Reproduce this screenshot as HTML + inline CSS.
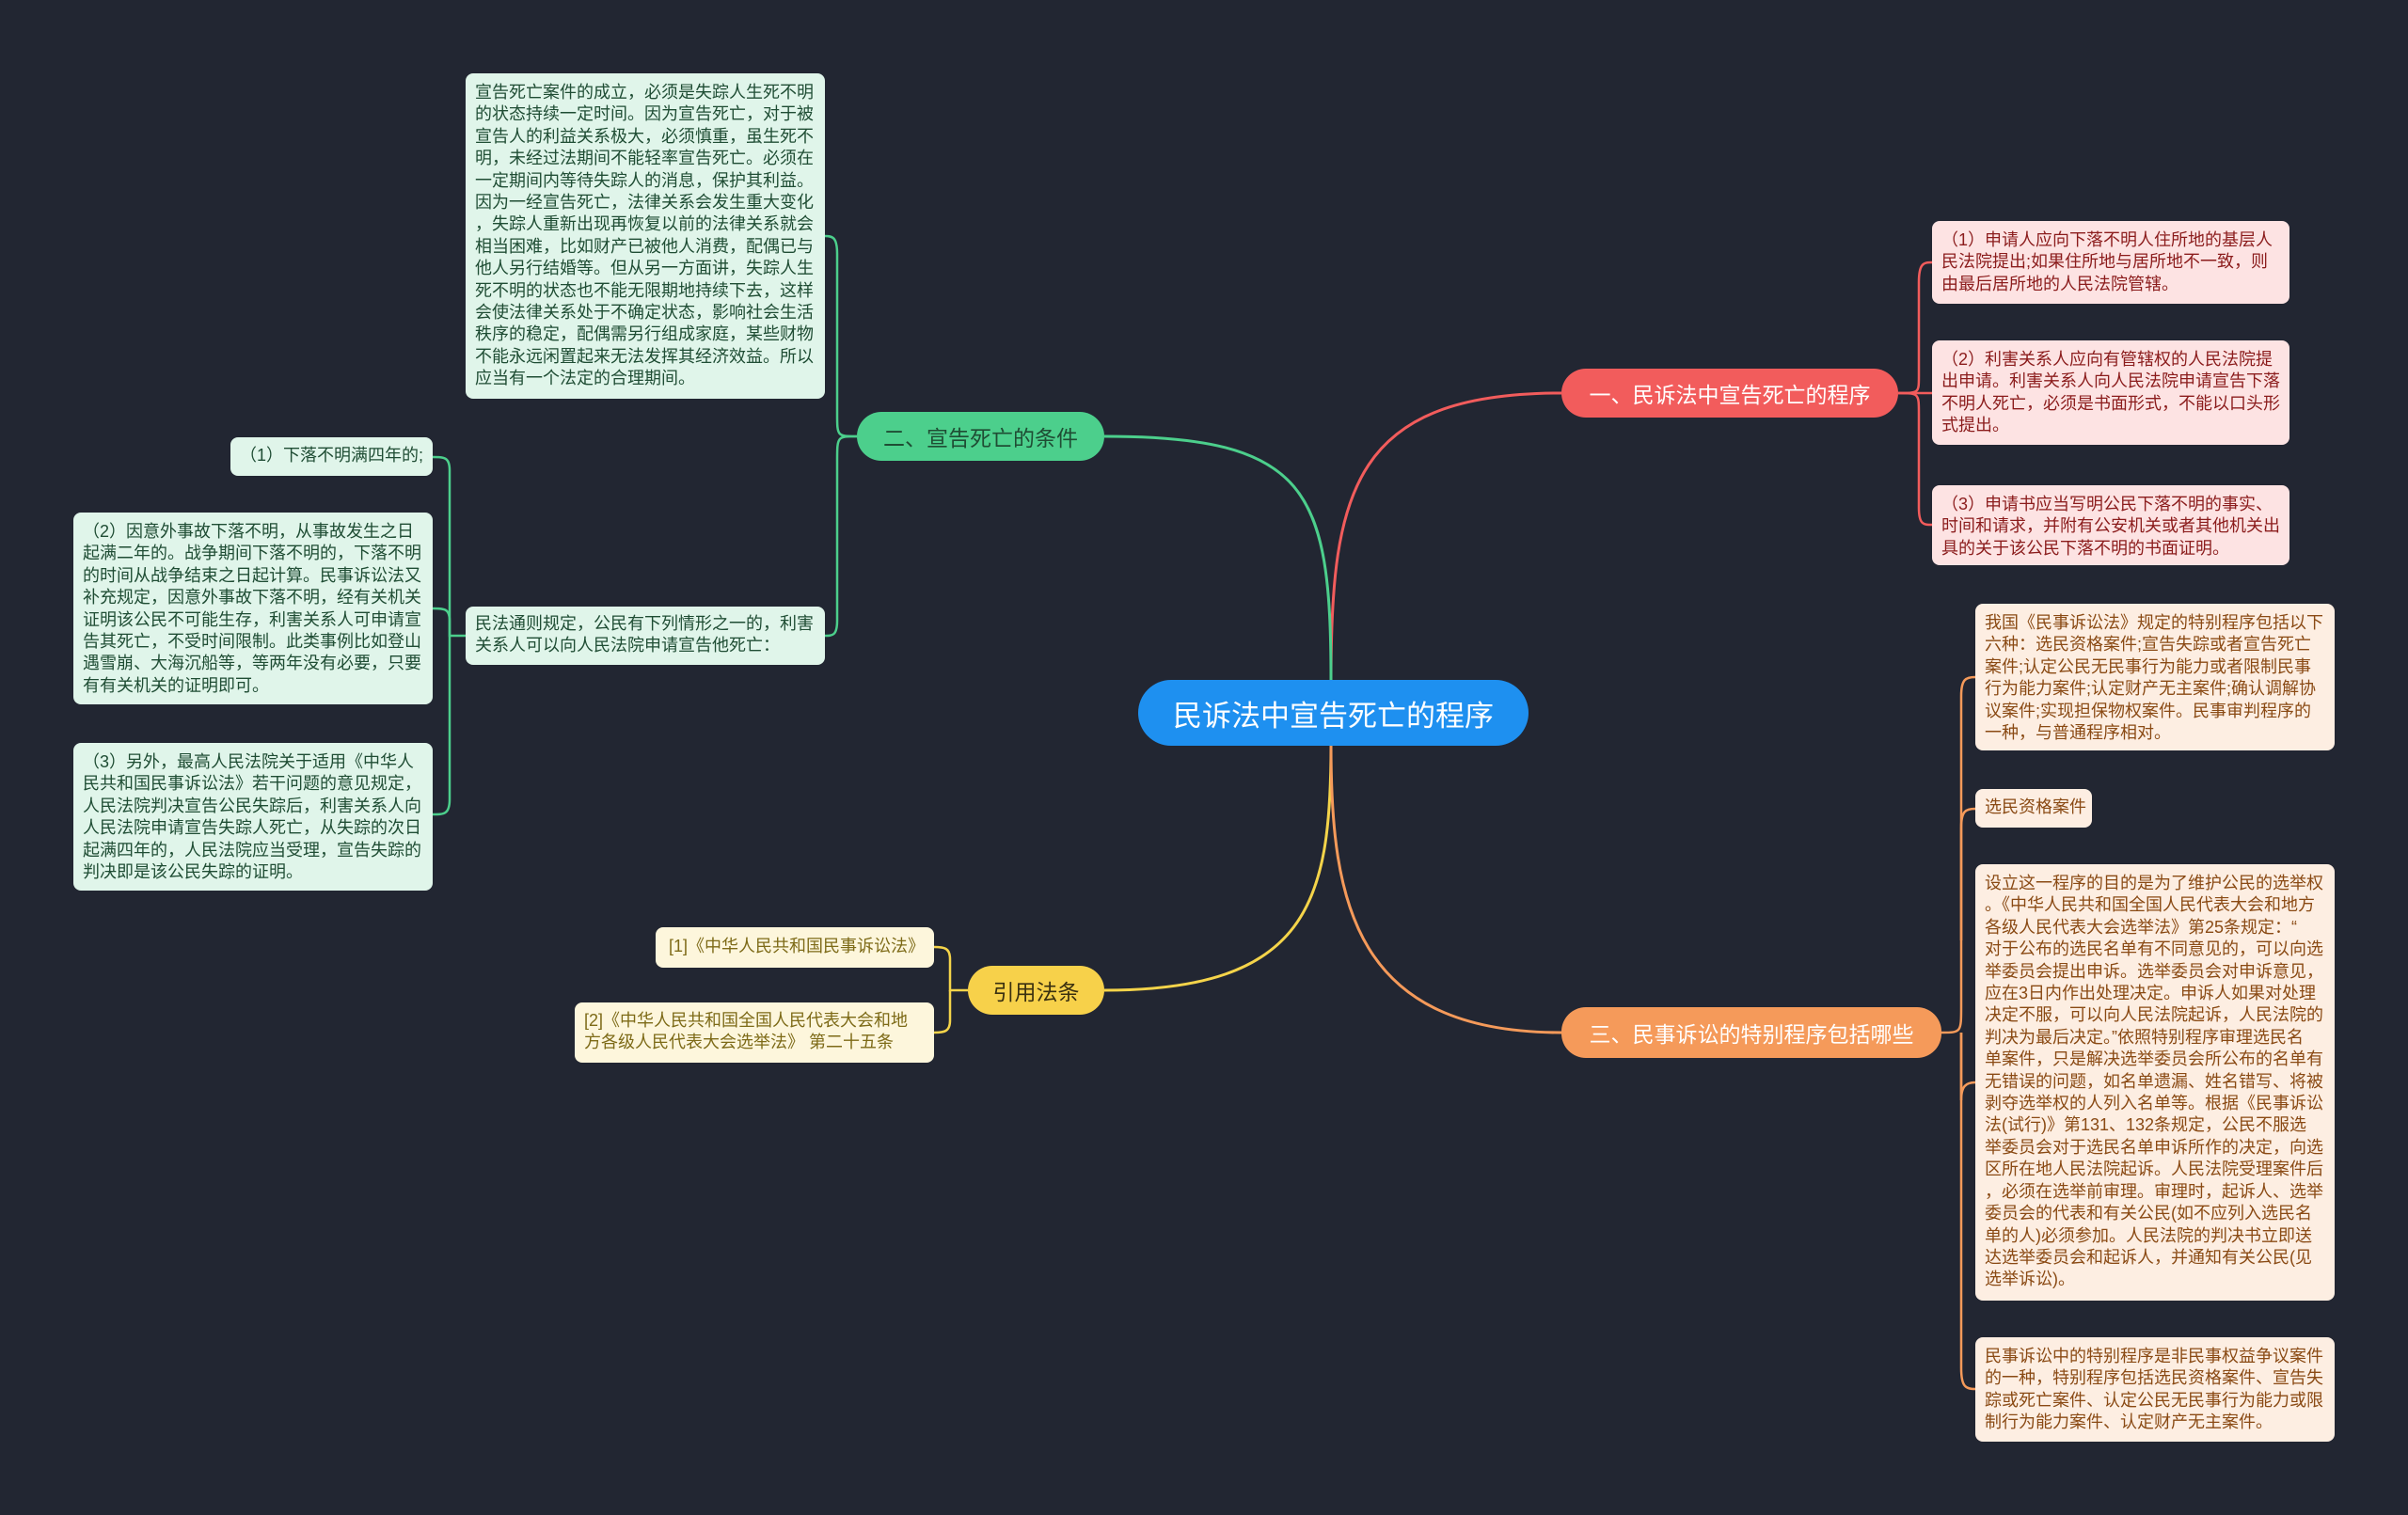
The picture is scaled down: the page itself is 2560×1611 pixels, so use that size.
<!DOCTYPE html>
<html><head><meta charset="utf-8">
<style>
html,body{margin:0;padding:0;}
body{width:2560px;height:1611px;background:#222632;position:relative;overflow:hidden;font-family:"Liberation Sans","Noto Sans CJK SC",sans-serif;}
.n{position:absolute;box-sizing:border-box;border-radius:8px;white-space:nowrap;font-size:18px;line-height:23.4px;padding:9px 10px;}
.g{background:#e0f5ea;color:#1f4d34;}
.r{background:#fde3e3;color:#8b1c1c;}
.o{background:#fdeee2;color:#8a4a14;}
.y{background:#fdf6dc;color:#7d6a17;}
.b{position:absolute;box-sizing:border-box;border-radius:26px;white-space:nowrap;display:flex;align-items:center;justify-content:center;font-size:23px;}
</style></head><body>
<svg width="2560" height="1611" style="position:absolute;left:0;top:0">
<g fill="none" stroke-width="3">
<path d="M1415 723 C1415 520,1440 418,1660 418" stroke="#f25c5c"/>
<path d="M1415 723 C1415 520,1390 464,1174 464" stroke="#4ccf8c"/>
<path d="M1415 793 C1415 960,1390 1053,1174 1053" stroke="#f5d44a"/>
<path d="M1415 793 C1415 960,1440 1098,1660 1098" stroke="#f59a5a"/>
</g>
<g fill="none" stroke-width="2.5">
<path d="M2018 418 C2040 418,2040 418,2040 400 L2040 300 C2040 280,2045 279,2054 279" stroke="#f25c5c"/>
<path d="M2018 418 L2054 418" stroke="#f25c5c"/>
<path d="M2018 418 C2040 418,2040 418,2040 440 L2040 540 C2040 558,2045 558,2054 558" stroke="#f25c5c"/>
<path d="M911 464 C890 464,890 464,890 440 L890 270 C890 252,885 251,877 251" stroke="#4ccf8c"/>
<path d="M911 464 C890 464,890 464,890 490 L890 660 C890 676,885 676,877 676" stroke="#4ccf8c"/>
<path d="M495 676 L478 676 L478 500 C478 486,472 486,460 486" stroke="#4ccf8c"/>
<path d="M478 676 L478 660 C478 647,472 647,460 647" stroke="#4ccf8c"/>
<path d="M478 676 L478 850 C478 866,472 866,460 866" stroke="#4ccf8c"/>
<path d="M1029 1053 L1010 1053 L1010 1020 C1010 1008,1004 1007,993 1007" stroke="#f5d44a"/>
<path d="M1010 1053 L1010 1085 C1010 1097,1004 1098,993 1098" stroke="#f5d44a"/>
<path d="M2064 1098 C2085 1098,2085 1098,2085 1070 L2085 740 C2085 722,2090 720,2100 720" stroke="#f59a5a"/>
<path d="M2085 1000 L2085 880 C2085 862,2090 860,2100 860" stroke="#f59a5a"/>
<path d="M2085 1098 L2085 1170 C2085 1155,2090 1151,2100 1151" stroke="#f59a5a"/>
<path d="M2085 1098 L2085 1455 C2085 1475,2090 1477,2100 1477" stroke="#f59a5a"/>
</g>
</svg>

<div class="b" style="left:1210px;top:723px;width:415px;height:70px;border-radius:35px;background:#1e90f0;color:#fff;font-size:31px;">民诉法中宣告死亡的程序</div>
<div class="b" style="left:1660px;top:392px;width:358px;height:52px;background:#f25c5c;color:#fff;">一、民诉法中宣告死亡的程序</div>
<div class="b" style="left:911px;top:438px;width:263px;height:52px;background:#4ccf8c;color:#1f4d34;">二、宣告死亡的条件</div>
<div class="b" style="left:1029px;top:1027px;width:145px;height:52px;background:#f7d14a;color:#3a3010;">引用法条</div>
<div class="b" style="left:1660px;top:1071px;width:404px;height:54px;background:#f59a5a;color:#fff;">三、民事诉讼的特别程序包括哪些</div>

<div class="n g" style="left:495px;top:78px;width:382px;height:346px;">宣告死亡案件的成立，必须是失踪人生死不明<br>的状态持续一定时间。因为宣告死亡，对于被<br>宣告人的利益关系极大，必须慎重，虽生死不<br>明，未经过法期间不能轻率宣告死亡。必须在<br>一定期间内等待失踪人的消息，保护其利益。<br>因为一经宣告死亡，法律关系会发生重大变化<br>，失踪人重新出现再恢复以前的法律关系就会<br>相当困难，比如财产已被他人消费，配偶已与<br>他人另行结婚等。但从另一方面讲，失踪人生<br>死不明的状态也不能无限期地持续下去，这样<br>会使法律关系处于不确定状态，影响社会生活<br>秩序的稳定，配偶需另行组成家庭，某些财物<br>不能永远闲置起来无法发挥其经济效益。所以<br>应当有一个法定的合理期间。</div>
<div class="n g" style="left:495px;top:645px;width:382px;height:62px;padding-top:7px;">民法通则规定，公民有下列情形之一的，利害<br>关系人可以向人民法院申请宣告他死亡：</div>
<div class="n g" style="left:245px;top:465px;width:215px;height:41px;padding-top:8px;text-align:right;">（1）下落不明满四年的;</div>
<div class="n g" style="left:78px;top:545px;width:382px;height:204px;">（2）因意外事故下落不明，从事故发生之日<br>起满二年的。战争期间下落不明的，下落不明<br>的时间从战争结束之日起计算。民事诉讼法又<br>补充规定，因意外事故下落不明，经有关机关<br>证明该公民不可能生存，利害关系人可申请宣<br>告其死亡，不受时间限制。此类事例比如登山<br>遇雪崩、大海沉船等，等两年没有必要，只要<br>有有关机关的证明即可。</div>
<div class="n g" style="left:78px;top:790px;width:382px;height:157px;">（3）另外，最高人民法院关于适用《中华人<br>民共和国民事诉讼法》若干问题的意见规定，<br>人民法院判决宣告公民失踪后，利害关系人向<br>人民法院申请宣告失踪人死亡，从失踪的次日<br>起满四年的，人民法院应当受理，宣告失踪的<br>判决即是该公民失踪的证明。</div>

<div class="n r" style="left:2054px;top:235px;width:380px;height:88px;">（1）申请人应向下落不明人住所地的基层人<br>民法院提出;如果住所地与居所地不一致，则<br>由最后居所地的人民法院管辖。</div>
<div class="n r" style="left:2054px;top:362px;width:380px;height:111px;">（2）利害关系人应向有管辖权的人民法院提<br>出申请。利害关系人向人民法院申请宣告下落<br>不明人死亡，必须是书面形式，不能以口头形<br>式提出。</div>
<div class="n r" style="left:2054px;top:516px;width:380px;height:85px;">（3）申请书应当写明公民下落不明的事实、<br>时间和请求，并附有公安机关或者其他机关出<br>具的关于该公民下落不明的书面证明。</div>

<div class="n y" style="left:697px;top:986px;width:296px;height:43px;padding-top:9px;text-align:right;">[1]《中华人民共和国民事诉讼法》</div>
<div class="n y" style="left:611px;top:1066px;width:382px;height:64px;padding-top:8px;">[2]《中华人民共和国全国人民代表大会和地<br>方各级人民代表大会选举法》 第二十五条</div>

<div class="n o" style="left:2100px;top:642px;width:382px;height:156px;">我国《民事诉讼法》规定的特别程序包括以下<br>六种：选民资格案件;宣告失踪或者宣告死亡<br>案件;认定公民无民事行为能力或者限制民事<br>行为能力案件;认定财产无主案件;确认调解协<br>议案件;实现担保物权案件。民事审判程序的<br>一种，与普通程序相对。</div>
<div class="n o" style="left:2100px;top:839px;width:124px;height:41px;padding-top:8px;">选民资格案件</div>
<div class="n o" style="left:2100px;top:919px;width:382px;height:464px;">设立这一程序的目的是为了维护公民的选举权<br>。《中华人民共和国全国人民代表大会和地方<br>各级人民代表大会选举法》第25条规定：“<br>对于公布的选民名单有不同意见的，可以向选<br>举委员会提出申诉。选举委员会对申诉意见，<br>应在3日内作出处理决定。申诉人如果对处理<br>决定不服，可以向人民法院起诉，人民法院的<br>判决为最后决定。”依照特别程序审理选民名<br>单案件，只是解决选举委员会所公布的名单有<br>无错误的问题，如名单遗漏、姓名错写、将被<br>剥夺选举权的人列入名单等。根据《民事诉讼<br>法(试行)》第131、132条规定，公民不服选<br>举委员会对于选民名单申诉所作的决定，向选<br>区所在地人民法院起诉。人民法院受理案件后<br>，必须在选举前审理。审理时，起诉人、选举<br>委员会的代表和有关公民(如不应列入选民名<br>单的人)必须参加。人民法院的判决书立即送<br>达选举委员会和起诉人，并通知有关公民(见<br>选举诉讼)。</div>
<div class="n o" style="left:2100px;top:1422px;width:382px;height:111px;">民事诉讼中的特别程序是非民事权益争议案件<br>的一种，特别程序包括选民资格案件、宣告失<br>踪或死亡案件、认定公民无民事行为能力或限<br>制行为能力案件、认定财产无主案件。</div>
</body></html>
